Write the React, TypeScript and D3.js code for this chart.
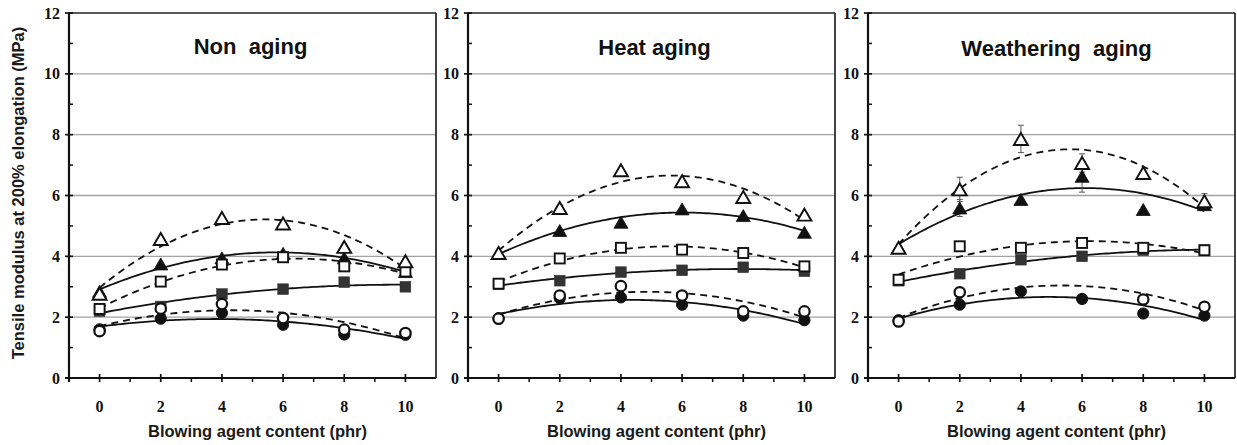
import React, { useEffect, useRef } from "react";
import * as d3 from "d3";

// blowing agent content (phr)
const phr = [0, 2, 4, 6, 8, 10];
const panelTitles = ["Non  aging", "Heat aging", "Weathering  aging"];
const yTicks = [0, 2, 4, 6, 8, 10, 12];
const yMinorTicks = [1, 3, 5, 7, 9, 11];
const xTicks = [0, 2, 4, 6, 8, 10];
const xMinorTicks = [1, 3, 5, 7, 9];
const xLabel = "Blowing agent content (phr)";
const yLabel = "Tensile modulus at 200% elongation (MPa)";

// Non aging
const nonOpenTri = [2.77, 4.57, 5.26, 5.08, 4.31, 3.84];
const nonFillTri = [2.85, 3.75, 3.95, 4.1, 3.95, 3.5];
const nonOpenSq = [2.27, 3.17, 3.73, 3.97, 3.67, 3.5];
const nonFillSq = [2.2, 2.35, 2.76, 2.92, 3.15, 3.0];
const nonOpenCirc = [1.54, 2.28, 2.43, 1.97, 1.59, 1.48];
const nonFillCirc = [1.6, 1.95, 2.14, 1.75, 1.43, 1.42];

// Heat aging
const heatOpenTri = [4.11, 5.59, 6.83, 6.47, 5.95, 5.37];
const heatFillTri = [4.1, 4.85, 5.12, 5.56, 5.34, 4.79];
const heatOpenSq = [3.1, 3.93, 4.28, 4.22, 4.11, 3.67];
const heatFillSq = [3.08, 3.2, 3.48, 3.54, 3.64, 3.51];
const heatOpenCirc = [1.95, 2.71, 3.02, 2.71, 2.19, 2.19];
const heatFillCirc = [1.97, 2.62, 2.65, 2.41, 2.05, 1.9];

// Weathering aging
const weaOpenTri = [4.28, 6.2, 7.86, 7.07, 6.74, 5.81];
const weaFillTri = [4.3, 5.59, 5.87, 6.63, 5.54, 5.7];
const weaOpenSq = [3.23, 4.33, 4.28, 4.44, 4.28, 4.2];
const weaFillSq = [3.2, 3.43, 3.89, 4.0, 4.2, 4.2];
const weaOpenCirc = [1.86, 2.82, null, null, 2.58, 2.34];
const weaFillCirc = [1.9, 2.41, 2.85, 2.6, 2.12, 2.05];
const weaOpenTriErr = [0, 0.4, 0.45, 0.3, 0, 0.25];
const weaFillTriErr = [0, 0.28, 0, 0.52, 0, 0];

type Series = { shape: string; filled: boolean; values: (number | null)[]; err?: number[] };

const makeSeries = (fTri, fSq, fCirc, oTri, oSq, oCirc, fTriErr?, oTriErr?): Series[] => [
  { shape: "square", filled: true, values: fSq },
  { shape: "circle", filled: true, values: fCirc },
  { shape: "triangle", filled: true, values: fTri, err: fTriErr },
  { shape: "square", filled: false, values: oSq },
  { shape: "circle", filled: false, values: oCirc },
  { shape: "triangle", filled: false, values: oTri, err: oTriErr },
];

const panels = [
  makeSeries(nonFillTri, nonFillSq, nonFillCirc, nonOpenTri, nonOpenSq, nonOpenCirc),
  makeSeries(heatFillTri, heatFillSq, heatFillCirc, heatOpenTri, heatOpenSq, heatOpenCirc),
  makeSeries(weaFillTri, weaFillSq, weaFillCirc, weaOpenTri, weaOpenSq, weaOpenCirc, weaFillTriErr, weaOpenTriErr),
];

// 2nd order polynomial trendline (least squares), like the spreadsheet did
function quadFit(xs: number[], ys: number[]) {
  let s0 = 0, s1 = 0, s2 = 0, s3 = 0, s4 = 0, t0 = 0, t1 = 0, t2 = 0;
  xs.forEach((x, i) => {
    const y = ys[i];
    s0 += 1; s1 += x; s2 += x * x; s3 += x * x * x; s4 += x * x * x * x;
    t0 += y; t1 += x * y; t2 += x * x * y;
  });
  const m = [
    [s0, s1, s2, t0],
    [s1, s2, s3, t1],
    [s2, s3, s4, t2],
  ];
  for (let c = 0; c < 3; c++) {
    for (let r = c + 1; r < 3; r++) {
      const f = m[r][c] / m[c][c];
      for (let k = c; k < 4; k++) m[r][k] -= f * m[c][k];
    }
  }
  const res = [0, 0, 0];
  for (let r = 2; r >= 0; r--) {
    let s = m[r][3];
    for (let k = r + 1; k < 3; k++) s -= m[r][k] * res[k];
    res[r] = s / m[r][r];
  }
  return (x: number) => res[0] + res[1] * x + res[2] * x * x;
}

const SANS = "'Liberation Sans', Arial, sans-serif";
const SERIF = "'Liberation Serif', 'Times New Roman', serif";

export default function App() {
  const ref = useRef<SVGSVGElement>(null);

  useEffect(() => {
    const svg = d3.select(ref.current);
    svg.selectAll("*").remove();

    const panelLeft = [69, 468, 868];
    const panelWidth = 367;
    const top = 13;
    const bottom = 378;
    const titleBase = [54, 55, 56];
    const titleShift = [-2, 3, 5];

    const yScale = d3.scaleLinear().domain([0, 12]).range([bottom, top]);

    panels.forEach((series, p) => {
      const L = panelLeft[p];
      const R = L + panelWidth;
      const xScale = d3.scaleLinear().domain([-1, 11]).range([L, R]);
      const g = svg.append("g");

      // gridlines
      g.selectAll(".grid")
        .data(yTicks.filter(t => t > 0 && t < 12))
        .enter()
        .append("line")
        .attr("x1", L).attr("x2", R)
        .attr("y1", d => yScale(d)).attr("y2", d => yScale(d))
        .attr("stroke", "#a2a2a2").attr("stroke-width", 1.3);

      // frame
      g.append("line").attr("x1", L).attr("x2", R).attr("y1", top).attr("y2", top)
        .attr("stroke", "#222").attr("stroke-width", 1.7);
      g.append("line").attr("x1", R).attr("x2", R).attr("y1", top).attr("y2", bottom)
        .attr("stroke", "#222").attr("stroke-width", 1.7);

      // axes
      g.append("line").attr("x1", L).attr("x2", L).attr("y1", top).attr("y2", bottom + 4)
        .attr("stroke", "#111").attr("stroke-width", 2.2);
      g.append("line").attr("x1", L - 4).attr("x2", R).attr("y1", bottom).attr("y2", bottom)
        .attr("stroke", "#111").attr("stroke-width", 2.2);

      g.selectAll(".ytick").data(yTicks).enter().append("line")
        .attr("x1", L - 4).attr("x2", L + 4)
        .attr("y1", d => yScale(d)).attr("y2", d => yScale(d))
        .attr("stroke", "#111").attr("stroke-width", 1.7);
      g.selectAll(".yminor").data(yMinorTicks).enter().append("line")
        .attr("x1", L).attr("x2", L + 4)
        .attr("y1", d => yScale(d)).attr("y2", d => yScale(d))
        .attr("stroke", "#111").attr("stroke-width", 1.5);
      g.selectAll(".xtick").data(xTicks).enter().append("line")
        .attr("x1", d => xScale(d)).attr("x2", d => xScale(d))
        .attr("y1", bottom - 4).attr("y2", bottom + 4)
        .attr("stroke", "#111").attr("stroke-width", 1.7);
      g.selectAll(".xminor").data(xMinorTicks).enter().append("line")
        .attr("x1", d => xScale(d)).attr("x2", d => xScale(d))
        .attr("y1", bottom).attr("y2", bottom + 4)
        .attr("stroke", "#111").attr("stroke-width", 1.5);

      // tick labels
      g.selectAll(".ylab").data(yTicks).enter().append("text")
        .attr("x", L - 9).attr("y", d => yScale(d)).attr("dy", "0.35em")
        .attr("text-anchor", "end")
        .style("font-family", SERIF).style("font-weight", "bold").style("font-size", "16px")
        .attr("fill", "#111")
        .text(d => d);
      g.selectAll(".xlab").data(xTicks).enter().append("text")
        .attr("x", d => xScale(d)).attr("y", 412)
        .attr("text-anchor", "middle")
        .style("font-family", SERIF).style("font-weight", "bold").style("font-size", "16px")
        .attr("fill", "#111")
        .text(d => d);

      // axis title and panel title
      g.append("text")
        .attr("x", (xScale(0) + xScale(10)) / 2 + 5).attr("y", 437)
        .attr("text-anchor", "middle")
        .style("font-family", SANS).style("font-weight", "bold").style("font-size", "16.5px")
        .attr("fill", "#1a1a1a")
        .text(xLabel);
      g.append("text")
        .attr("x", (L + R) / 2 + titleShift[p]).attr("y", titleBase[p])
        .attr("text-anchor", "middle")
        .style("font-family", SANS).style("font-weight", "bold").style("font-size", "22px")
        .style("white-space", "pre")
        .attr("fill", "#111")
        .text(panelTitles[p]);

      // trendlines
      const fine = d3.range(0, 10.001, 0.1);
      series.forEach(s => {
        const pts = phr.map((x, i) => [x, s.values[i]]).filter(d => d[1] != null) as [number, number][];
        const f = quadFit(pts.map(d => d[0]), pts.map(d => d[1]));
        const line = d3.line<number>().x(x => xScale(x)).y(x => yScale(f(x)));
        g.append("path")
          .attr("d", line(fine))
          .attr("fill", "none")
          .attr("stroke", "#111")
          .attr("stroke-width", 1.8)
          .attr("stroke-dasharray", s.filled ? null : "7,5");
      });

      // error bars
      series.forEach(s => {
        if (!s.err) return;
        phr.forEach((x, i) => {
          const v = s.values[i];
          const e = s.err![i];
          if (v == null || !e) return;
          const cx = xScale(x);
          const y1 = yScale(v - e), y2 = yScale(v + e);
          g.append("line").attr("x1", cx).attr("x2", cx).attr("y1", y1).attr("y2", y2)
            .attr("stroke", "#555").attr("stroke-width", 1);
          [y1, y2].forEach(yy => g.append("line").attr("x1", cx - 3).attr("x2", cx + 3)
            .attr("y1", yy).attr("y2", yy).attr("stroke", "#555").attr("stroke-width", 1));
        });
      });

      // markers
      series.forEach(s => {
        phr.forEach((x, i) => {
          const v = s.values[i];
          if (v == null) return;
          const cx = xScale(x);
          const cy = yScale(v);
          const fill = s.filled ? (s.shape === "square" ? "#333" : "#111") : "#fff";
          const stroke = s.filled ? (s.shape === "square" ? "#333" : "#111") : "#111";
          if (s.shape === "circle") {
            g.append("circle").attr("cx", cx).attr("cy", cy).attr("r", s.filled ? 5.6 : 5.2)
              .attr("fill", fill).attr("stroke", stroke).attr("stroke-width", s.filled ? 1 : 2.2);
          } else if (s.shape === "square") {
            const h = s.filled ? 5.4 : 5;
            g.append("rect").attr("x", cx - h).attr("y", cy - h).attr("width", 2 * h).attr("height", 2 * h)
              .attr("fill", fill).attr("stroke", stroke).attr("stroke-width", s.filled ? 0.5 : 1.9);
          } else {
            const w = 7;
            const h = 6;
            g.append("path")
              .attr("d", `M${cx},${cy - h}L${cx + w},${cy + h}L${cx - w},${cy + h}Z`)
              .attr("fill", fill).attr("stroke", stroke).attr("stroke-width", s.filled ? 0.8 : 1.9)
              .attr("stroke-linejoin", "miter");
          }
        });
      });
    });

    // shared y axis title
    svg.append("text")
      .attr("transform", `translate(24, 193) rotate(-90)`)
      .attr("text-anchor", "middle")
      .style("font-family", SANS).style("font-weight", "bold").style("font-size", "16.5px")
      .attr("fill", "#1a1a1a")
      .text(yLabel);
  }, []);

  return (
    <svg
      ref={ref}
      width={1237}
      height={445}
      style={{ position: "absolute", left: 0, top: 0, background: "#fff" }}
    />
  );
}
